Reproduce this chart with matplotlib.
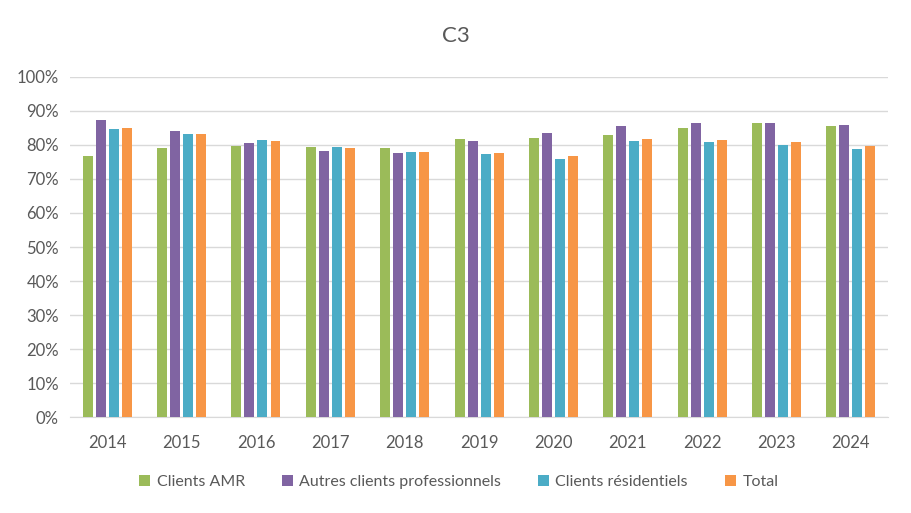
import matplotlib
matplotlib.use("Agg")
from matplotlib import pyplot as plt
from matplotlib.ticker import FuncFormatter
import numpy as np

years = ["2014", "2015", "2016", "2017", "2018", "2019", "2020", "2021", "2022", "2023", "2024"]
amr = [76.7, 79.0, 79.6, 79.3, 79.0, 81.7, 82.0, 82.9, 84.9, 86.4, 85.5]
autres_pro = [87.3, 84.0, 80.5, 78.1, 77.6, 81.1, 83.4, 85.5, 86.4, 86.4, 85.8]
residentiels = [84.6, 83.1, 81.4, 79.3, 77.9, 77.3, 75.8, 81.1, 80.8, 80.0, 78.7]
total = [84.9, 83.1, 81.1, 79.0, 77.9, 77.6, 76.7, 81.7, 81.4, 80.8, 79.6]

series = [
    ("Clients AMR", amr, "#9BBB59"),
    ("Autres clients professionnels", autres_pro, "#8064A2"),
    ("Clients résidentiels", residentiels, "#4BACC6"),
    ("Total", total, "#F79646"),
]

plt.rcParams['font.family'] = ['Lato', 'DejaVu Sans']

fig = plt.figure(figsize=(9.12, 5.13), dpi=100)
ax = fig.add_axes([0.0768, 0.187, 0.897, 0.663])

x = np.arange(len(years))
width = 0.134
step = 0.175
for i, (name, vals, col) in enumerate(series):
    ax.bar(x + (i - 1.5) * step, np.array(vals) / 100, width, color=col, label=name, zorder=3)

ax.set_xlim(-0.5, len(years) - 0.5)
ax.set_ylim(0, 1)
ax.set_yticks(np.arange(0, 1.01, 0.1))
ax.yaxis.set_major_formatter(FuncFormatter(lambda v, p: f"{v * 100:.0f}%"))
ax.set_xticks(x)
ax.set_xticklabels(years)
ax.grid(axis='y', color='#D9D9D9', linewidth=1, zorder=0)
for s in ['top', 'right', 'left']:
    ax.spines[s].set_visible(False)
ax.spines['bottom'].set_color('#D9D9D9')
ax.tick_params(axis='both', length=0, labelsize=12, colors='#595959')
ax.tick_params(axis='x', pad=13)
ax.tick_params(axis='y', pad=8)

fig.text(0.5, 0.93, "C3", ha='center', va='center', fontsize=16, color='#595959')
fig.legend(loc='center', bbox_to_anchor=(0.503, 0.06), ncol=4, frameon=False,
           fontsize=11.5, labelcolor='#595959', handlelength=0.7, handleheight=0.7,
           handletextpad=0.4, columnspacing=2.3)

fig.savefig("out.png", dpi=100)
